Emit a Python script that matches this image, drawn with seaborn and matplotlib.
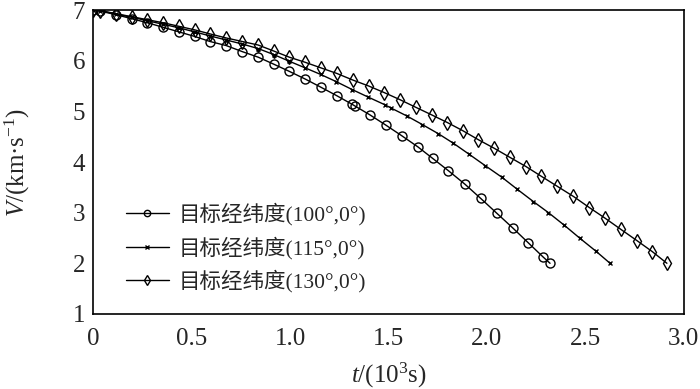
import pandas as pd
import matplotlib
matplotlib.use('Agg')
import matplotlib.pyplot as plt
import seaborn as sns

sns.set_style('white')
plt.rcParams['font.family'] = ['Liberation Serif', 'Noto Sans CJK SC']
plt.rcParams['mathtext.fontset'] = 'custom'
plt.rcParams['mathtext.rm'] = 'Liberation Serif'
plt.rcParams['mathtext.it'] = 'Liberation Serif:italic'

# values (t in 10^3 s, V in km/s)
t_100 = [0, 0.035, 0.115, 0.195, 0.275, 0.355, 0.435, 0.515, 0.593, 0.675, 0.757, 0.838,
         0.918, 0.996, 1.076, 1.155, 1.237, 1.315, 1.328, 1.406, 1.486, 1.567, 1.649, 1.725,
         1.804, 1.889, 1.969, 2.050, 2.131, 2.209, 2.287, 2.321]
v_100 = [7.00, 6.98, 6.91, 6.83, 6.75, 6.66, 6.57, 6.48, 6.38, 6.30, 6.18, 6.07,
         5.93, 5.79, 5.64, 5.48, 5.31, 5.14, 5.11, 4.93, 4.73, 4.52, 4.30, 4.07,
         3.83, 3.56, 3.28, 2.99, 2.70, 2.41, 2.12, 2.00]

t_115 = [0, 0.035, 0.115, 0.195, 0.275, 0.355, 0.435, 0.515, 0.593, 0.675, 0.757, 0.838,
         0.918, 0.996, 1.076, 1.155, 1.233, 1.316, 1.398, 1.482, 1.511, 1.593, 1.672, 1.753,
         1.830, 1.911, 1.991, 2.076, 2.155, 2.236, 2.313, 2.394, 2.474, 2.554, 2.626]
v_115 = [7.00, 6.99, 6.92, 6.86, 6.79, 6.72, 6.65, 6.57, 6.49, 6.41, 6.33, 6.24,
         6.12, 5.99, 5.86, 5.73, 5.59, 5.43, 5.28, 5.13, 5.07, 4.91, 4.74, 4.56,
         4.37, 4.15, 3.93, 3.70, 3.46, 3.22, 3.00, 2.75, 2.49, 2.24, 2.00]

t_130 = [0, 0.035, 0.115, 0.195, 0.275, 0.355, 0.435, 0.515, 0.593, 0.675, 0.757, 0.838,
         0.918, 0.996, 1.076, 1.156, 1.237, 1.318, 1.400, 1.479, 1.559, 1.639, 1.720, 1.799,
         1.877, 1.957, 2.038, 2.118, 2.199, 2.276, 2.358, 2.440, 2.521, 2.601, 2.681, 2.762,
         2.841, 2.915]
v_130 = [7.00, 6.99, 6.93, 6.87, 6.81, 6.75, 6.68, 6.61, 6.53, 6.45, 6.38, 6.31,
         6.19, 6.07, 5.97, 5.86, 5.75, 5.62, 5.50, 5.37, 5.23, 5.08, 4.93, 4.78,
         4.62, 4.44, 4.27, 4.09, 3.91, 3.72, 3.52, 3.32, 3.10, 2.89, 2.67, 2.45,
         2.23, 2.00]

labels = ['目标经纬度(100°,0°)', '目标经纬度(115°,0°)', '目标经纬度(130°,0°)']
xticks = [0, 0.5, 1.0, 1.5, 2.0, 2.5, 3.0]
xtick_labels = ['0', '0.5', '1.0', '1.5', '2.0', '2.5', '3.0']
yticks = [1, 2, 3, 4, 5, 6, 7]

series = [(t_100, v_100, 'o', 6.5), (t_115, v_115, 'x', 3.5), (t_130, v_130, 'd', 7)]

fig = plt.figure(figsize=(7, 3.89), dpi=100)
ax = fig.add_axes([0.1334, 0.193, 0.8432, 0.781])

for (t, v, mk, ms), lab in zip(series, labels):
    df = pd.DataFrame({'t': t, 'V': v})
    sns.lineplot(data=df, x='t', y='V', ax=ax, color='black', linewidth=1.0,
                 marker=mk, markersize=ms, fillstyle='none', markeredgewidth=1.0,
                 markeredgecolor='black', sort=False, estimator=None, label=lab)

ax.set_xlim(0, 3.0)
ax.set_ylim(1, 7)
ax.set_xticks(xticks)
ax.set_xticklabels(xtick_labels)
ax.set_yticks(yticks)
ax.tick_params(direction='in', length=5, width=1.0, labelsize=18)
ax.tick_params(axis='x', pad=10)
ax.tick_params(axis='y', pad=6)
for s in ax.spines.values():
    s.set_linewidth(1.2)
    s.set_color('black')

ax.set_xlabel(r'$t$/(10$^3$s)', fontsize=18, labelpad=8)
ax.set_ylabel(r'$V$/(km·s$^{-1}$)', fontsize=18, labelpad=29)

ax.legend(loc='lower left', bbox_to_anchor=(0.029, 0.02), frameon=False,
          fontsize=15.5, handlelength=2.0, handletextpad=0.45, labelspacing=0.5,
          borderpad=0.2, markerscale=0.7)

fig.savefig('out.png', dpi=100)
